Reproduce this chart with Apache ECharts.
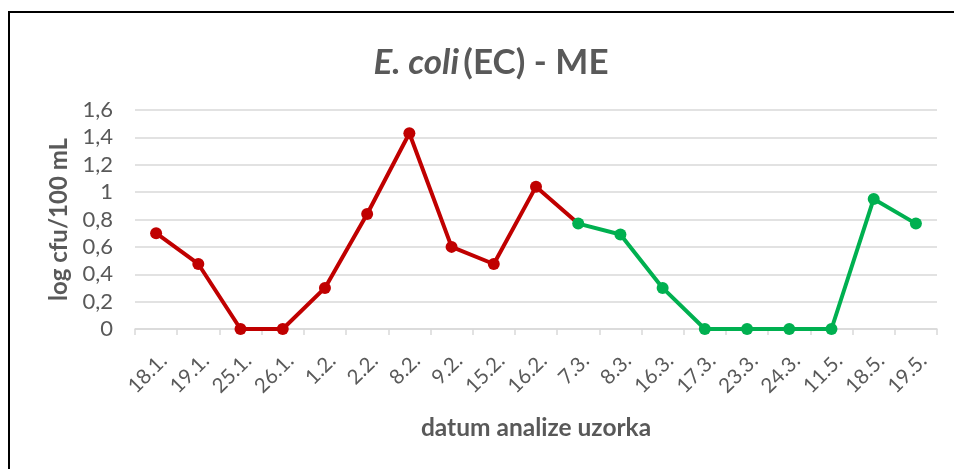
<!DOCTYPE html>
<html>
<head>
<meta charset="utf-8">
<script src="https://cdn.jsdelivr.net/npm/echarts@6/dist/echarts.min.js"></script>
<style>
  html, body { margin: 0; padding: 0; background: #fff; }
  #chart { width: 954px; height: 469px; }
</style>
</head>
<body>
<div id="chart"></div>
<script>
// datumi uzorkovanja
var categories = ['18.1.', '19.1.', '25.1.', '26.1.', '1.2.', '2.2.', '8.2.', '9.2.', '15.2.', '16.2.',
  '7.3.', '8.3.', '16.3.', '17.3.', '23.3.', '24.3.', '11.5.', '18.5.', '19.5.'];
// log cfu/100 mL
var values = [0.70, 0.475, 0, 0, 0.30, 0.84, 1.43, 0.60, 0.475, 1.04,
  0.77, 0.69, 0.30, 0, 0, 0, 0, 0.95, 0.77];
var splitIndex = 10; // od 7.3. zeleno
var yTicks = [0, 0.2, 0.4, 0.6, 0.8, 1, 1.2, 1.4, 1.6];

var redData = values.map(function (v, i) { return i <= splitIndex ? v : '-'; });
var greenData = values.map(function (v, i) { return i >= splitIndex ? v : '-'; });

var txt = '#595959';
var font = 'Lato';

var chart = echarts.init(document.getElementById('chart'));
var option = {
  backgroundColor: '#fff',
  animation: false,
  textStyle: { fontFamily: font },
  title: {
    text: '{i|E. coli} {n|(EC) - ME}',
    left: 486,
    top: 40,
    textAlign: 'center',
    textStyle: {
      rich: {
        i: { fontFamily: font, fontSize: 35, fontWeight: 'bold', fontStyle: 'italic', color: txt },
        n: { fontFamily: font, fontSize: 35, fontWeight: 'bold', color: txt }
      }
    }
  },
  graphic: [{
    type: 'rect',
    shape: { x: 9, y: 12, width: 1000, height: 600 },
    style: { fill: 'none', stroke: '#000', lineWidth: 2 },
    silent: true
  }],
  grid: { left: 135, right: 17, top: 110, bottom: 140 },
  xAxis: {
    type: 'category',
    data: categories,
    boundaryGap: true,
    name: 'datum analize uzorka',
    nameLocation: 'middle',
    nameGap: 87,
    nameTextStyle: { color: txt, fontSize: 24.5, fontWeight: 'bold', fontFamily: font },
    axisLine: { lineStyle: { color: '#d9d9d9', width: 1.5 } },
    axisTick: { show: true, length: 6, lineStyle: { color: '#d9d9d9', width: 1.5 } },
    axisLabel: { rotate: 45, color: txt, fontSize: 20.5, fontFamily: font, margin: 21, interval: 0, verticalAlign: 'top' }
  },
  yAxis: {
    type: 'value',
    min: 0,
    max: 1.6,
    interval: 0.2,
    name: 'log cfu/100 mL',
    nameLocation: 'middle',
    nameGap: 62,
    nameTextStyle: { color: txt, fontSize: 24, fontWeight: 'bold', fontFamily: font },
    axisLine: { show: false },
    axisTick: { show: false },
    splitLine: { lineStyle: { color: '#d9d9d9', width: 1.5 } },
    axisLabel: {
      color: txt, fontSize: 22, fontFamily: font, margin: 22,
      formatter: function (v) {
        var t = yTicks.filter(function (k) { return Math.abs(k - v) < 1e-6; })[0];
        return String(t === undefined ? v : t).replace('.', ',');
      }
    }
  },
  series: [
    {
      type: 'line',
      data: redData,
      symbol: 'circle',
      symbolSize: function (v, p) { return p.dataIndex < splitIndex ? 12 : 0; },
      lineStyle: { color: '#C00000', width: 4 },
      itemStyle: { color: '#C00000' },
      z: 2
    },
    {
      type: 'line',
      data: greenData,
      symbol: 'circle',
      symbolSize: 12,
      lineStyle: { color: '#00B050', width: 4 },
      itemStyle: { color: '#00B050' },
      z: 3
    }
  ]
};
chart.setOption(option);
</script>
</body>
</html>
